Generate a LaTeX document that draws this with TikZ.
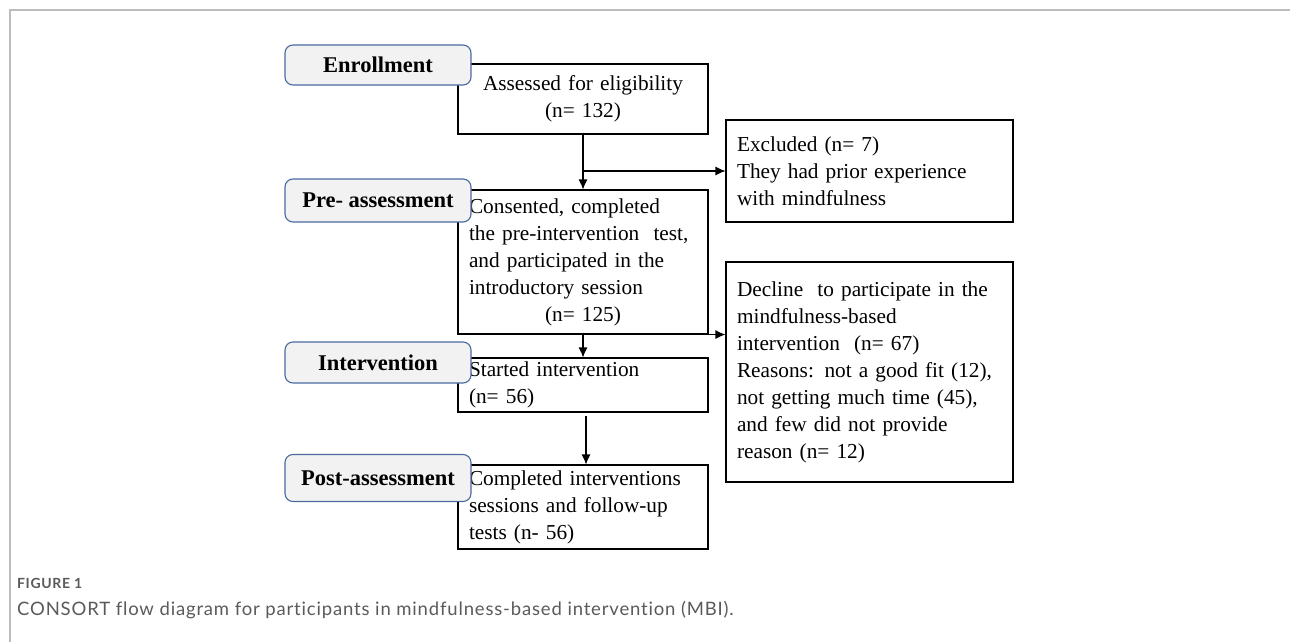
\documentclass[tikz,border=0pt]{standalone}
\usepackage{fontspec}
\setmainfont{Liberation Serif}
\newfontfamily\capfont[LetterSpace=4.5,Ligatures=NoCommon]{Lato}
\usetikzlibrary{arrows.meta}
\definecolor{lblfill}{HTML}{F2F2F2}
\definecolor{lbldraw}{HTML}{4A6A9E}
\definecolor{capgray}{HTML}{5A5A5A}
\definecolor{framegray}{HTML}{BDBDBD}
\tikzset{
  flowbox/.style={draw=black, line width=1.1pt, rectangle, inner sep=0pt, fill=white,
    font=\fontsize{21.3}{27}\selectfont},
  stagelabel/.style={draw=lbldraw, line width=1.1pt, fill=lblfill, rounded corners=8pt,
    minimum width=186pt, inner sep=0pt, font=\fontsize{22.5}{26}\selectfont\bfseries},
  flowarrow/.style={draw=black, line width=1.1pt, -{Latex[length=10pt,width=9pt]}},
}
\begin{document}
\begin{tikzpicture}[x=1pt,y=-1pt]
\useasboundingbox (0,0) rectangle (1290,642);
% frame
\draw[framegray, line width=2pt] (10,642) -- (10,10) -- (1290,10);

% main boxes
\node[flowbox, minimum width=250pt, minimum height=70pt, text width=228pt, align=center] (assess) at (583,99)
  {Assessed for eligibility\\(n= 132)};
\node[flowbox, minimum width=250pt, minimum height=144pt, text width=228pt, align=left] (pre) at (583,262)
  {Consented, completed\\the pre-intervention\ \ test,\\and participated in the\\introductory session\\\makebox[228pt]{(n= 125)}};
\node[flowbox, minimum width=250pt, minimum height=54pt, text width=228pt, align=left] (interv) at (583,385)
  {Started intervention\\(n= 56)};
\node[flowbox, minimum width=250pt, minimum height=84pt, text width=228pt, align=left] (post) at (583,507)
  {Completed interventions\\sessions and follow-up\\tests (n- 56)};
\node[flowbox, minimum width=287pt, minimum height=102pt, text width=265pt, align=left] (excl) at (869.5,171)
  {Excluded (n= 7)\\They had prior experience\\with mindfulness};
\node[flowbox, minimum width=287pt, minimum height=220pt, text width=265pt, align=left] (decline) at (869.5,372)
  {Decline\ \ to participate in the\\mindfulness-based\\intervention\ \ (n= 67)\\Reasons: not a good fit (12),\\not getting much time (45),\\and few did not provide\\reason (n= 12)};

% connectors
\draw[flowarrow] (assess.south) -- (pre.north);
\coordinate (split1) at (assess.south |- excl.west);
\draw[flowarrow] (split1) -- (excl.west);
\draw[flowarrow] (pre.south) -- (interv.north);
\coordinate (split2) at (pre.south -| decline.west);
\draw[flowarrow] (pre.south) -- (split2);
\draw[flowarrow] ([xshift=3pt,yshift=-3pt]interv.south) -- ([xshift=3pt]post.north);

% stage labels
\node[stagelabel, minimum height=40pt] (lenroll) at (378,65) {Enrollment};
\node[stagelabel, minimum height=43pt] (lpre) at (378,200.5) {Pre- assessment};
\node[stagelabel, minimum height=41pt] (lint) at (378,362.5) {Intervention};
\node[stagelabel, minimum height=47pt] (lpost) at (378,478) {Post-assessment};

% caption
\node[anchor=west, inner sep=0pt, text=capgray, font=\capfont\bfseries\fontsize{14}{16}\selectfont] (figlabel) at (17,583) {FIGURE 1};
\node[anchor=west, inner sep=0pt, text=capgray, font=\capfont\fontsize{18.5}{22}\selectfont] (caption) at (17,610)
  {CONSORT flow diagram for participants in mindfulness-based intervention (MBI).};
\end{tikzpicture}
\end{document}
